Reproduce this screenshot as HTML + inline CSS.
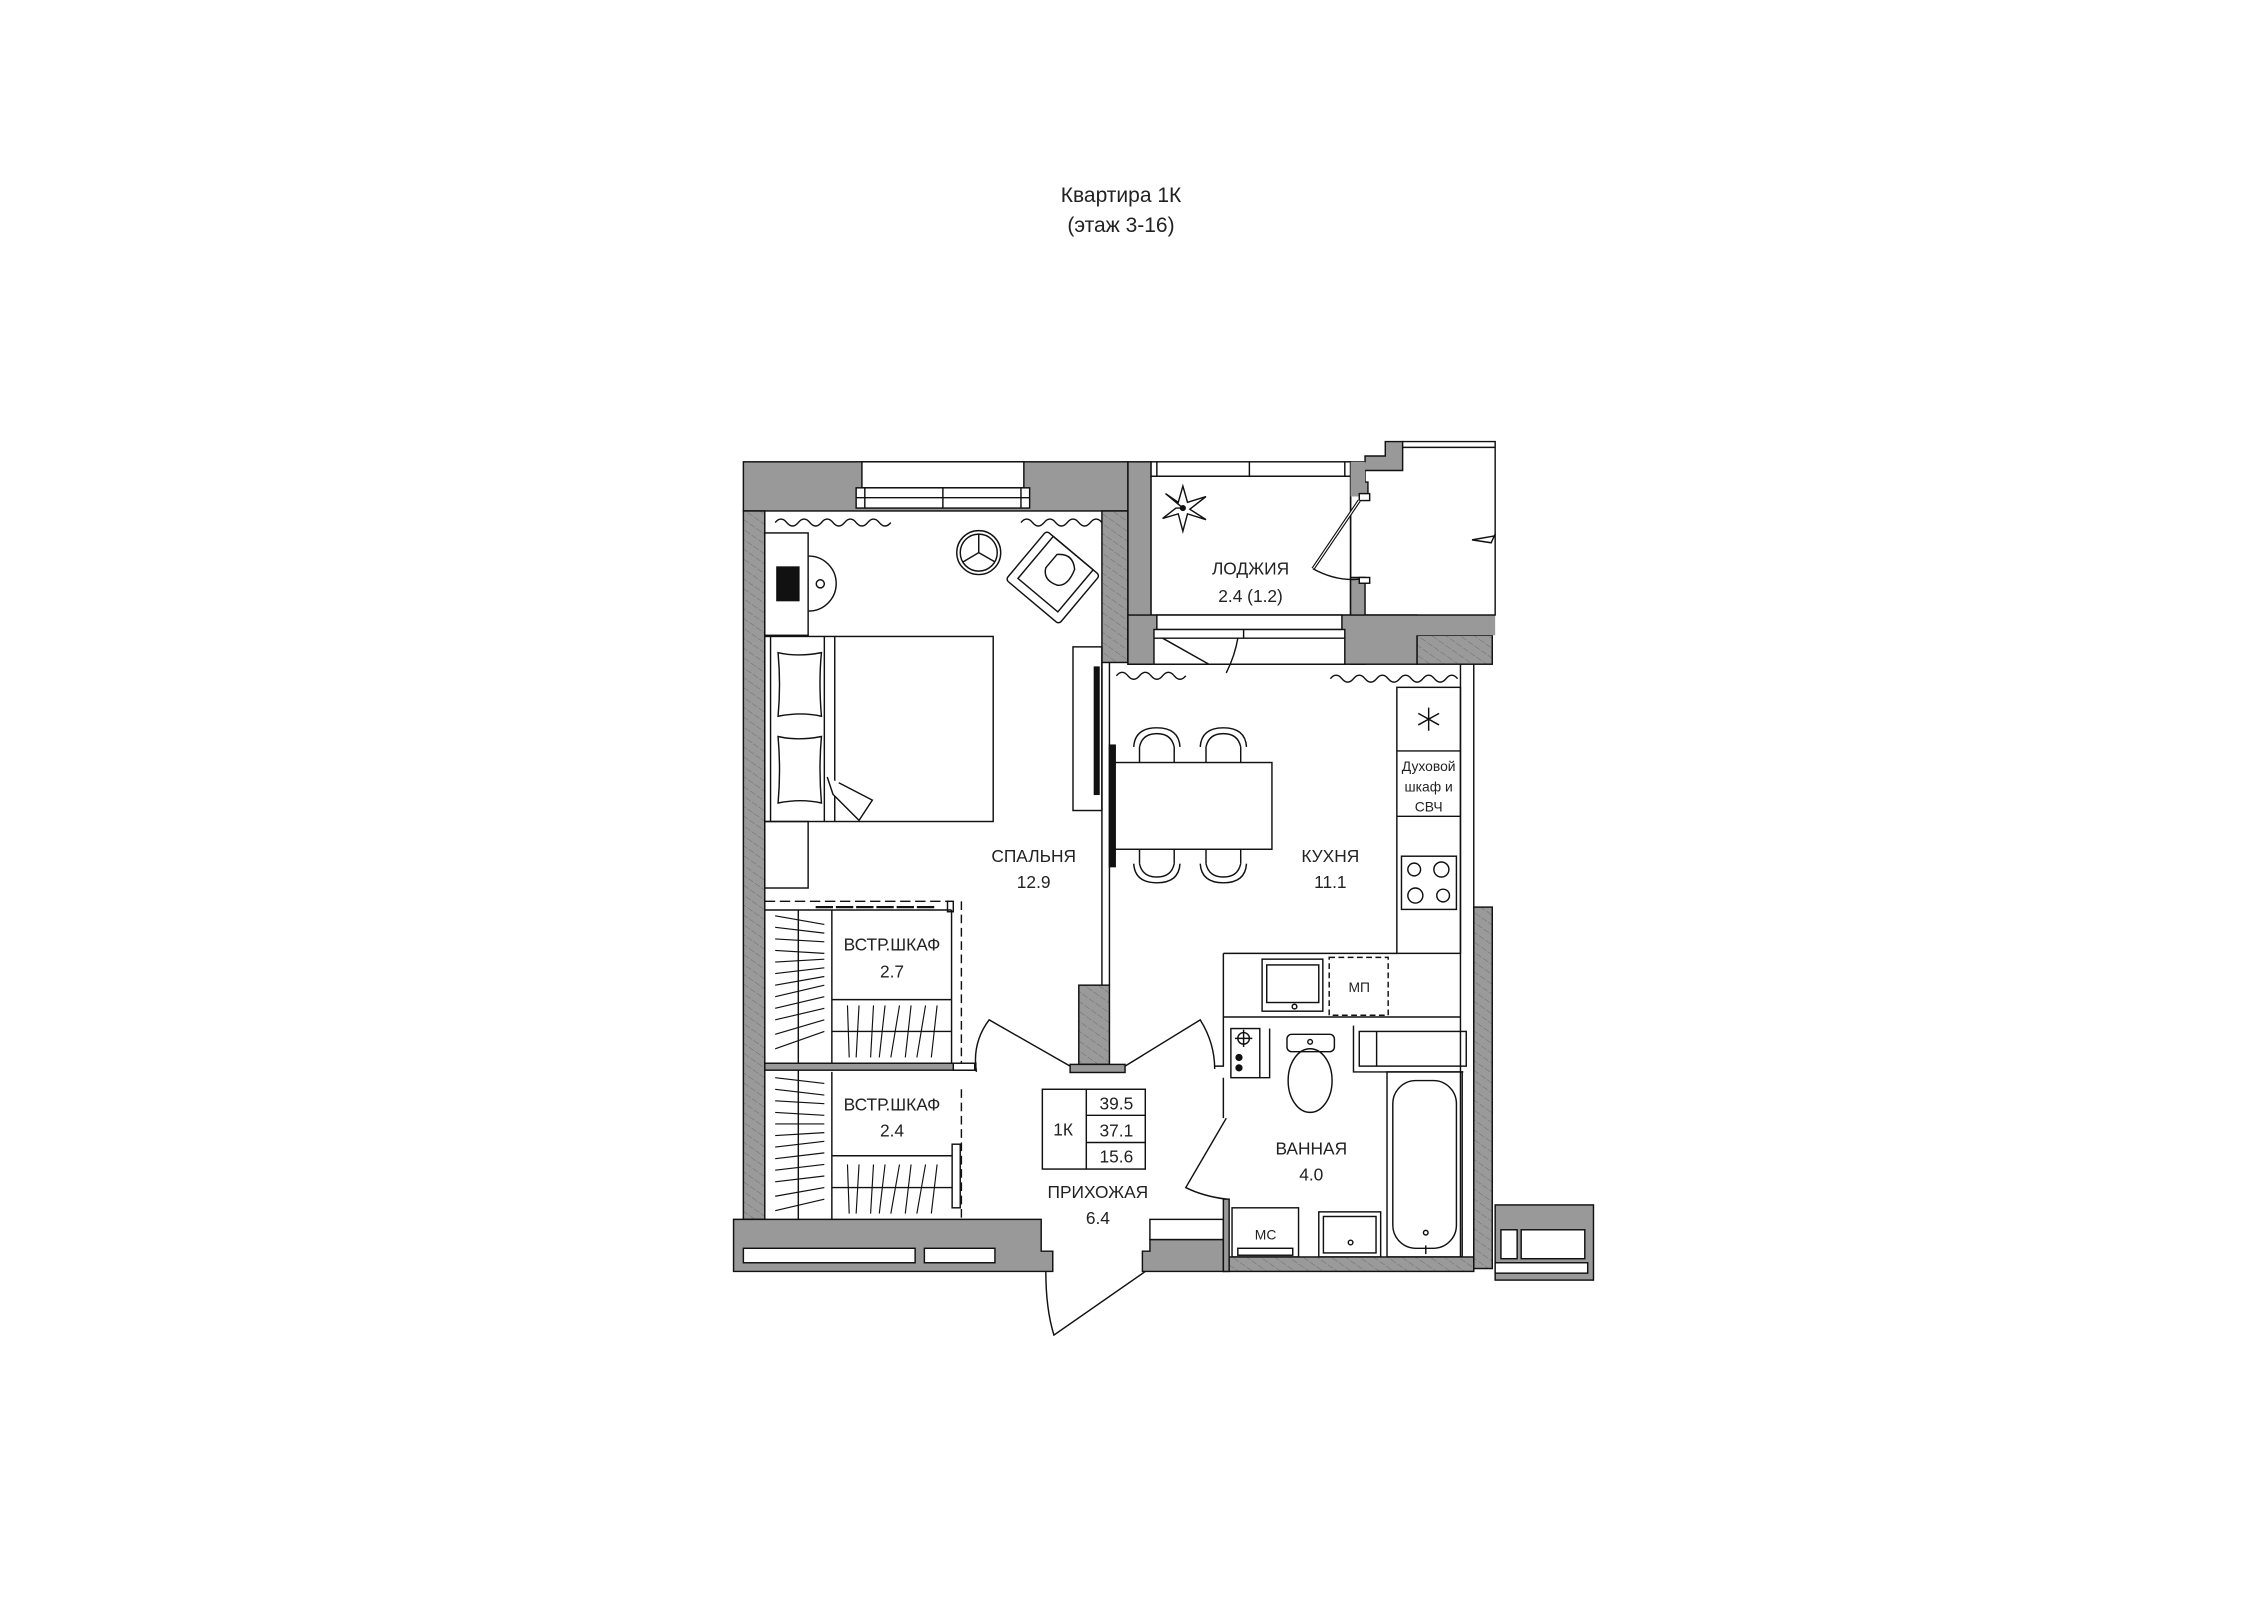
<!DOCTYPE html>
<html><head><meta charset="utf-8"><style>
html,body{margin:0;padding:0;background:#fff;}
svg{display:block}
text{font-family:"Liberation Sans","DejaVu Sans",sans-serif;fill:#222}
</style></head><body>
<svg width="2263" height="1600" viewBox="0 0 2263 1600" xmlns="http://www.w3.org/2000/svg">
<defs>
<pattern id="h" patternUnits="userSpaceOnUse" width="14" height="14" patternTransform="rotate(-55)">
<rect width="14" height="14" fill="#9a9a9a"/><line x1="0" y1="0" x2="0" y2="14" stroke="#666" stroke-width="1.5" stroke-dasharray="6 3"/>
</pattern>
</defs>
<rect width="2263" height="1600" fill="#fff"/>
<text x="1121" y="202" font-size="21" text-anchor="middle">Квартира 1К</text>
<text x="1121" y="232" font-size="21" text-anchor="middle">(этаж 3-16)</text>

<g transform="translate(700,430) scale(0.5783)" stroke="#111" stroke-width="2.5" fill="none">
<!-- top bedroom wall -->
<rect x="75" y="55" width="665" height="85" fill="#999"/>
<rect x="280" y="55" width="280" height="45" fill="#fff"/>
<rect x="270" y="100" width="300" height="35" fill="#fff"/>
<line x1="270" y1="117" x2="570" y2="117"/>
<line x1="285" y1="100" x2="285" y2="135"/><line x1="555" y1="100" x2="555" y2="135"/><line x1="420" y1="100" x2="420" y2="135"/>
<!-- left wall -->
<rect x="75" y="140" width="37" height="1225" fill="url(#h)"/>
<!-- partition bedroom/kitchen top -->
<rect x="695" y="140" width="45" height="262" fill="url(#h)"/>
<!-- loggia left wall column -->
<rect x="740" y="55" width="40" height="350" fill="#999"/>
<!-- loggia top window -->
<rect x="780" y="55" width="345" height="25" fill="#fff"/>
<line x1="950" y1="55" x2="950" y2="80"/><line x1="790" y1="55" x2="790" y2="80"/><line x1="1115" y1="55" x2="1115" y2="80"/>
<!-- loggia interior -->
<rect x="780" y="80" width="345" height="240" fill="#fff"/>
<!-- loggia right wall + steps -->
<path d="M1125 55 L1150 55 L1150 45 L1185 45 L1185 20 L1215 20 L1215 70 L1150 70 L1150 90 L1155 90 L1155 120 L1143 120 L1143 90 Z" fill="#999"/>
<path d="M1125 55 L1125 320" />
<rect x="1125" y="55" width="25" height="60" fill="#999" stroke="none"/>
<rect x="1125" y="255" width="25" height="150" fill="#999"/>
<rect x="1140" y="110" width="18" height="12" fill="#fff"/>
<rect x="1140" y="255" width="18" height="10" fill="#fff"/>
<path d="M1215 20 L1375 20 L1375 320 L1150 320" fill="none"/>
<line x1="1215" y1="30" x2="1375" y2="30"/>
<path d="M1375 180 L1368 195 L1335 190 L1375 183" />
<!-- loggia door -->
<path d="M1140 122 L1060 240" stroke-width="6"/><path d="M1140 122 L1060 240" stroke="#fff" stroke-width="2"/>
<path d="M1060 240 Q1100 262 1140 258"/>
<!-- flower -->
<g transform="translate(835,135)">
<path d="M0 0 L-30 -25 L-8 -10 L0 -38 L8 -10 L40 -20 L12 2 L40 20 L8 10 L0 40 L-8 10 L-35 18 L-12 0 Z" fill="#fff"/>
<circle r="4" fill="#111"/>
</g>
<!-- lower loggia wall with window/door -->
<rect x="740" y="320" width="500" height="85" fill="#999"/>
<rect x="790" y="320" width="320" height="25" fill="#fff"/>
<rect x="785" y="345" width="330" height="60" fill="#fff"/>
<line x1="785" y1="360" x2="1115" y2="360"/>
<line x1="940" y1="345" x2="940" y2="360"/>
<path d="M800 360 L880 405" /><path d="M930 360 Q925 390 910 420"/>
<rect x="1240" y="355" width="130" height="50" fill="url(#h)"/>
<rect x="1150" y="320" width="225" height="35" fill="#999" stroke="none"/>
<line x1="1150" y1="320" x2="1375" y2="320"/>
<!-- kitchen right wall -->
<rect x="1315" y="405" width="23" height="1045" fill="#fff"/>
<rect x="1338" y="825" width="32" height="625" fill="url(#h)"/>
<!-- bedroom curtains -->
<path d="M130 160 q10 -12 20 0 t20 0 t20 0 t20 0 t20 0 t20 0 t20 0 t20 0 t20 0 t20 0"/>
<path d="M555 160 q10 -12 20 0 t20 0 t20 0 t20 0 t20 0 t20 0 t20 0"/>
<!-- desk -->
<rect x="112" y="178" width="75" height="177"/>
<rect x="133" y="237" width="38" height="58" fill="#111"/>
<path d="M188 218 A42 42 0 0 1 188 313"/>
<circle cx="208" cy="266" r="7"/>
<!-- round table -->
<circle cx="482" cy="212" r="38"/><circle cx="482" cy="212" r="32"/>
<path d="M482 180 L482 212 L455 228 M482 212 L510 228"/>
<!-- armchair -->
<g transform="translate(610,255) rotate(40)">
<rect x="-60" y="-55" width="120" height="110" rx="6" fill="#fff"/>
<rect x="-45" y="-55" width="90" height="95"/>
<path d="M-20 -35 q20 -20 40 0 q10 30 -5 40 q-25 10 -35 -10 z" fill="#fff"/>
</g>
<!-- bed -->
<rect x="112" y="357" width="395" height="320" fill="#fff"/>
<line x1="122" y1="357" x2="122" y2="677"/>
<line x1="215" y1="357" x2="215" y2="677"/><line x1="233" y1="357" x2="233" y2="677"/>
<path d="M135 385 q35 8 75 0 q-5 50 0 110 q-35 -8 -75 0 q5 -55 0 -110z"/>
<path d="M135 530 q35 8 75 0 q-5 55 0 115 q-35 -8 -75 0 q5 -55 0 -115z"/>
<path d="M220 600 L230 630 L275 675 L298 640 L240 610" fill="#fff"/>
<rect x="112" y="677" width="75" height="115"/>
<!-- tv stand / partition -->
<rect x="645" y="375" width="50" height="283"/>
<rect x="682" y="410" width="8" height="220" fill="#111"/>
<line x1="695" y1="402" x2="695" y2="960"/><line x1="708" y1="402" x2="708" y2="960"/>
<rect x="655" y="960" width="53" height="137" fill="url(#h)"/>
<!-- wardrobes -->
<path d="M112 815 L430 815" stroke-dasharray="18 8"/>
<path d="M200 825 L410 825" stroke-width="4" stroke-dasharray="30 5"/>
<rect x="428" y="815" width="10" height="18"/>
<path d="M452 815 L452 1095" stroke-dasharray="15 8"/>
<line x1="170" y1="830" x2="170" y2="1365"/>
<line x1="228" y1="830" x2="228" y2="1095"/>
<line x1="228" y1="985" x2="435" y2="985"/><line x1="228" y1="1040" x2="435" y2="1040"/>
<line x1="112" y1="830" x2="435" y2="830"/>
<line x1="435" y1="830" x2="435" y2="1095"/>
<g stroke-width="2">
<path d="M130 840 L215 855 M130 860 L215 870 M130 880 L215 885 M130 900 L215 905 M130 920 L215 915 M130 940 L215 930 M130 960 L215 945 M130 980 L215 960 M130 1000 L215 980 M130 1020 L215 1000 M130 1045 L215 1020 M130 1070 L215 1040"/>
<path d="M255 995 L258 1085 M275 995 L270 1085 M300 995 L295 1085 M320 995 L310 1085 M345 995 L330 1085 M365 995 L355 1085 M390 995 L375 1085 M410 995 L400 1085"/>
</g>
<rect x="112" y="1095" width="365" height="12" fill="#999"/>
<rect x="438" y="1095" width="37" height="12" fill="#fff"/>
<line x1="228" y1="1110" x2="228" y2="1365"/>
<line x1="228" y1="1255" x2="435" y2="1255"/><line x1="228" y1="1310" x2="435" y2="1310"/>
<path d="M452 1140 L452 1365" stroke-dasharray="15 8"/>
<rect x="436" y="1235" width="14" height="110"/>
<g stroke-width="2">
<path d="M130 1120 L215 1130 M130 1140 L215 1150 M130 1160 L215 1165 M130 1180 L215 1185 M130 1200 L215 1200 M130 1220 L215 1215 M130 1240 L215 1230 M130 1260 L215 1250 M130 1280 L215 1270 M130 1300 L215 1290 M130 1325 L215 1310 M130 1350 L215 1330"/>
<path d="M255 1270 L258 1355 M275 1270 L270 1355 M300 1270 L295 1355 M320 1270 L310 1355 M345 1270 L330 1355 M365 1270 L355 1355 M390 1270 L375 1355 M410 1270 L400 1355"/>
</g>
<!-- hallway doors -->
<rect x="640" y="1097" width="95" height="14" fill="#999"/>
<path d="M478 1110 Q470 1060 500 1020 L640 1100" />
<path d="M735 1100 L865 1020 Q890 1060 890 1105"/>
<!-- kitchen -->
<path d="M720 425 q10 -12 20 0 t20 0 t20 0 t20 0 t20 0 t20 0"/>
<path d="M1090 430 q10 -12 20 0 t20 0 t20 0 t20 0 t20 0 t20 0 t20 0 t20 0 t20 0 t20 0 t20 0"/>
<rect x="1205" y="445" width="110" height="460"/>
<line x1="1205" y1="555" x2="1315" y2="555"/><line x1="1205" y1="668" x2="1315" y2="668"/>
<path d="M1260 480 L1260 520 M1242 490 L1278 510 M1278 490 L1242 510"/>
<rect x="1213" y="737" width="95" height="92"/>
<circle cx="1235" cy="760" r="11"/><circle cx="1282" cy="760" r="13"/><circle cx="1237" cy="805" r="13"/><circle cx="1285" cy="805" r="11"/>
<path d="M905 905 L1205 905 M905 905 L905 1015 L1315 1015"/>
<rect x="972" y="915" width="105" height="90"/><rect x="980" y="925" width="90" height="65"/>
<circle cx="1028" cy="997" r="4"/>
<rect x="1088" y="912" width="102" height="100" stroke-dasharray="10 6"/>
<!-- dining -->
<rect x="712" y="575" width="277" height="150" fill="#fff"/>
<rect x="708" y="545" width="10" height="210" fill="#111"/>
<g fill="#fff">
<path d="M750 548 Q752 515 790 515 Q828 515 830 548 M760 548 Q765 525 790 525 Q815 525 820 548"/>
<path d="M865 548 Q867 515 905 515 Q943 515 945 548 M875 548 Q880 525 905 525 Q930 525 935 548"/>
<path d="M750 750 Q752 783 790 783 Q828 783 830 750 M760 750 Q765 773 790 773 Q815 773 820 750"/>
<path d="M865 750 Q867 783 905 783 Q943 783 945 750 M875 750 Q880 773 905 773 Q930 773 935 750"/>
</g>
<path d="M760 548 L760 575 M820 548 L820 575 M875 548 L875 575 M935 548 L935 575 M760 725 L760 750 M820 725 L820 750 M875 725 L875 750 M935 725 L935 750"/>
<!-- bathroom -->
<path d="M905 1015 L905 1100 L890 1100"/>
<rect x="918" y="1035" width="50" height="85"/>
<circle cx="940" cy="1052" r="10"/><path d="M925 1052 L955 1052 M940 1037 L940 1067"/>
<circle cx="932" cy="1085" r="5" fill="#111"/><circle cx="932" cy="1103" r="5" fill="#111"/>
<path d="M905 1120 L905 1190 M910 1190 L840 1310 Q870 1325 910 1330 L910 1345"/>
<path d="M985 1035 L985 1120 L968 1120"/>
<rect x="1015" y="1045" width="82" height="30" rx="8"/>
<ellipse cx="1055" cy="1125" rx="38" ry="55"/>
<circle cx="1055" cy="1058" r="4"/>
<rect x="1140" y="1040" width="185" height="60"/><line x1="1170" y1="1040" x2="1170" y2="1100"/>
<path d="M1130 1030 L1130 1110 L1320 1110"/>
<rect x="1188" y="1110" width="130" height="320"/>
<rect x="1198" y="1125" width="110" height="290" rx="40"/>
<circle cx="1255" cy="1388" r="4"/><line x1="1255" y1="1410" x2="1255" y2="1425"/>
<rect x="920" y="1345" width="115" height="85"/><rect x="930" y="1415" width="95" height="12"/>
<rect x="1070" y="1352" width="107" height="78"/><rect x="1078" y="1360" width="91" height="63"/>
<circle cx="1125" cy="1405" r="4"/>
<rect x="905" y="1430" width="433" height="25" fill="url(#h)"/>
<line x1="1338" y1="1015" x2="1338" y2="1440"/>
<!-- bottom walls -->
<path d="M58 1365 L590 1365 L590 1420 L610 1420 L610 1455 L58 1455 Z" fill="#999"/>
<rect x="75" y="1415" width="297" height="25" fill="#fff"/>
<rect x="388" y="1415" width="122" height="25" fill="#fff"/>
<rect x="778" y="1365" width="127" height="35" fill="#fff"/>
<path d="M765 1420 L778 1420 L778 1400 L905 1400 L905 1455 L765 1455 Z" fill="#999"/>
<rect x="905" y="1330" width="10" height="125" fill="#999"/>
<path d="M598 1455 Q598 1520 612 1565 L770 1455"/>
<rect x="1375" y="1340" width="170" height="130" fill="#999"/>
<rect x="1385" y="1383" width="28" height="50" fill="#fff"/><rect x="1420" y="1383" width="110" height="50" fill="#fff"/>
<rect x="1375" y="1440" width="160" height="18" fill="#fff"/>
<!-- table -->
<rect x="592" y="1140" width="178" height="138" fill="#fff"/>
<line x1="668" y1="1140" x2="668" y2="1278"/><line x1="668" y1="1185" x2="770" y2="1185"/><line x1="668" y1="1232" x2="770" y2="1232"/>
</g>
<g transform="translate(700,430) scale(0.5783)" font-size="30" text-anchor="middle">
<text x="577" y="747">СПАЛЬНЯ</text><text x="577" y="792">12.9</text>
<text x="1090" y="747">КУХНЯ</text><text x="1090" y="792">11.1</text>
<text x="952" y="250">ЛОДЖИЯ</text><text x="952" y="297">2.4 (1.2)</text>
<text x="332" y="900">ВСТР.ШКАФ</text><text x="332" y="947">2.7</text>
<text x="332" y="1177">ВСТР.ШКАФ</text><text x="332" y="1222">2.4</text>
<text x="688" y="1328">ПРИХОЖАЯ</text><text x="688" y="1373">6.4</text>
<text x="1057" y="1253">ВАННАЯ</text><text x="1057" y="1298">4.0</text>
<text x="628" y="1220">1К</text>
<text x="720" y="1175">39.5</text><text x="720" y="1222">37.1</text><text x="720" y="1267">15.6</text>
<text x="1140" y="972" font-size="24">МП</text>
<text x="978" y="1400" font-size="24">МС</text>
<text x="1260" y="590" font-size="24">Духовой</text>
<text x="1260" y="625" font-size="24">шкаф и</text>
<text x="1260" y="660" font-size="24">СВЧ</text>
</g>
</svg>
</body></html>
